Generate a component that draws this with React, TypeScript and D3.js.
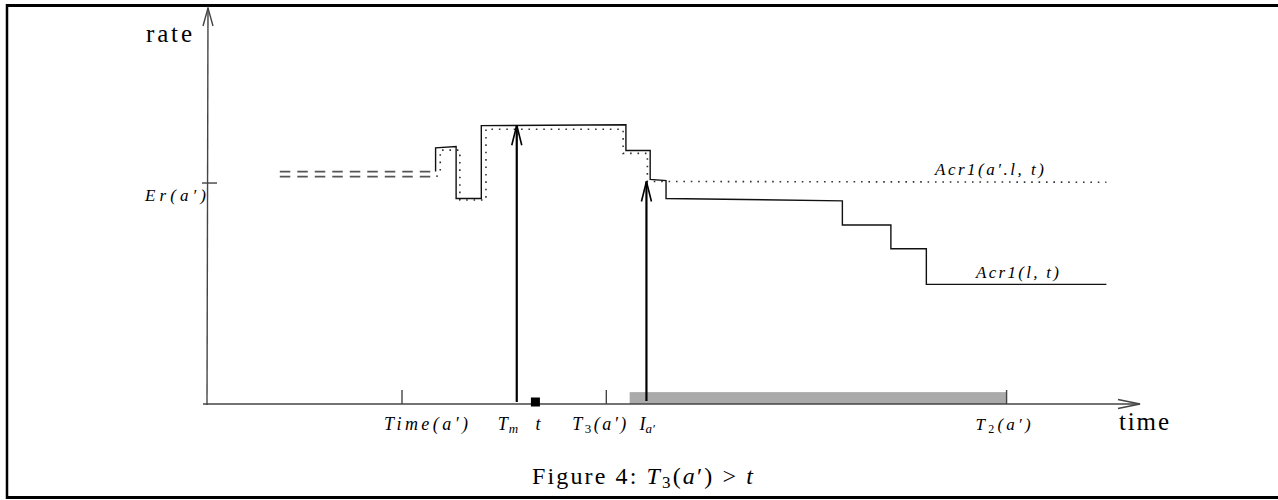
import * as d3 from 'd3';

const W = 1278;
const H = 500;

// time / rate in arbitrary units, 0..100 up to the arrow tips
const timeDomain: [number, number] = [0, 100];
const rateDomain: [number, number] = [0, 100];

const erRate = 55.8;

// earlier rate, drawn as the double dashed line
const prevTimes = [7.8, 24.3];
const prevRates = [58.7, 57.4];

// Acr1(l, t) - solid step line
const acrLTimes = [24.5, 24.5, 26.7, 26.7, 29.4, 29.4, 44.9, 44.9, 47.5, 47.5, 49.2, 49.2, 68.1, 68.1, 73.3, 73.3, 77.1, 77.1, 96.4];
const acrLRates = [58.7, 64.7, 65.0, 51.9, 51.9, 70.3, 70.5, 64.0, 64.0, 56.7, 56.4, 51.9, 51.3, 45.2, 45.2, 39.2, 39.2, 30.2, 30.2];

// Acr1(a'.l, t) - dotted step line
const acrALTimes = [24.6, 25.0, 25.0, 27.1, 27.1, 29.9, 29.9, 44.6, 44.6, 47.2, 47.2, 96.4];
const acrALRates = [57.4, 58.6, 64.1, 64.1, 51.5, 51.5, 69.4, 69.4, 63.3, 63.3, 56.2, 56.0];

// events on the time axis
const timeA = 20.9;
const t3Time = 42.8;
const t2Time = 85.7;
const tmTime = 33.2;
const tmRate = 70.4;
const tTime = 35.2;
const iaTime = 47.1;
const iaRate = 56.2;
const busyStart = 45.3;
const busyEnd = 85.7;
const busyRate = 3.0;

const serif = '"Liberation Serif", "DejaVu Serif", serif';

export default function App() {
  const x = d3.scaleLinear().domain(timeDomain).range([207, 1140]);
  const y = d3.scaleLinear().domain(rateDomain).range([404, 8]);

  const line = d3
    .line<[number, number]>()
    .x((d) => x(d[0]))
    .y((d) => y(d[1]));

  const solid = acrLTimes.map((t, i) => [t, acrLRates[i]] as [number, number]);
  const dotted = acrALTimes.map((t, i) => [t, acrALRates[i]] as [number, number]);

  const x0 = x(0);
  const y0 = y(0);
  const yTop = y(rateDomain[1]);
  const xEnd = x(timeDomain[1]);
  const base = y0 + 26;

  const upArrow = (t: number, r: number) => {
    const px = x(t);
    const py = y(r);
    return `M${px - 5},${py + 20}L${px},${py}L${px + 5},${py + 20}`;
  };

  const ticks = [timeA, t3Time, t2Time];

  return (
    <svg width={W} height={H} style={{ position: 'absolute', left: 0, top: 0 }}>
      <rect width={W} height={H} fill="#fff" />
      {/* frame */}
      <line x1={7} x2={7} y1={4} y2={499} stroke="#000" strokeWidth={2.5} />
      <line x1={6} x2={1278} y1={497.5} y2={497.5} stroke="#000" strokeWidth={3} />
      <line x1={6} x2={1278} y1={5.5} y2={5.5} stroke="#000" strokeWidth={3} />

      {/* busy period */}
      <rect
        x={x(busyStart)}
        y={y(busyRate)}
        width={x(busyEnd) - x(busyStart)}
        height={y0 - y(busyRate)}
        fill="#aaa"
      />

      {/* axes */}
      <g stroke="#444" strokeWidth={1.4} fill="none">
        <line x1={x0 - 4} x2={xEnd} y1={y0} y2={y0} />
        <path d={`M${xEnd - 22},${y0 - 4.5}L${xEnd},${y0}L${xEnd - 22},${y0 + 4.5}`} />
        <line x1={x0} x2={x0 + 1} y1={y0 + 1} y2={yTop} />
        <path d={`M${x0 - 4},${yTop + 18}L${x0 + 1},${yTop}L${x0 + 6},${yTop + 18}`} />
        <line x1={x0 - 5} x2={x0 + 10} y1={y(erRate)} y2={y(erRate)} />
        {ticks.map((t) => (
          <line key={t} x1={x(t)} x2={x(t)} y1={y0 - 14} y2={y0} />
        ))}
      </g>

      {/* earlier rate */}
      {prevRates.map((r) => (
        <line
          key={r}
          x1={x(prevTimes[0])}
          x2={x(prevTimes[1])}
          y1={y(r)}
          y2={y(r)}
          stroke="#555"
          strokeWidth={1.8}
          strokeDasharray="10.5 7"
        />
      ))}

      <path d={line(dotted) ?? ''} fill="none" stroke="#333" strokeWidth={1.6} strokeDasharray="1.6 5.8" />
      <path d={line(solid) ?? ''} fill="none" stroke="#111" strokeWidth={1.4} />

      {/* arrows */}
      <g stroke="#000" fill="none">
        <line x1={x(tmTime)} x2={x(tmTime)} y1={y0 - 2} y2={y(tmRate)} strokeWidth={2.2} />
        <path d={upArrow(tmTime, tmRate)} strokeWidth={1.6} />
        <line x1={x(iaTime)} x2={x(iaTime)} y1={y0 - 3} y2={y(iaRate)} strokeWidth={2.2} />
        <path d={upArrow(iaTime, iaRate)} strokeWidth={1.6} />
      </g>
      <rect x={x(tTime) - 4.5} y={y0 - 6.5} width={9} height={9} fill="#000" />

      {/* axis titles */}
      <g fontFamily={serif} fill="#000" fontSize={25}>
        <text x={146} y={41.5} textLength={46} lengthAdjust="spacing">rate</text>
        <text x={1119} y={430} textLength={50} lengthAdjust="spacing">time</text>
      </g>

      <g fontFamily={serif} fontStyle="italic" fontSize={18} fill="#000">
        <text x={145} y={201} fontSize={17} textLength={61} lengthAdjust="spacing">Er(a′)</text>
        <text x={x(timeA) - 18} y={base} textLength={84} lengthAdjust="spacing">Time(a′)</text>
        <text x={x(tmTime) - 19} y={base}>
          T<tspan fontSize={13} dy={3} dx={1}>m</tspan>
        </text>
        <text x={x(tTime)} y={base}>t</text>
        <text x={x(t3Time) - 34} y={base} textLength={54} lengthAdjust="spacing">
          T<tspan fontSize={13} fontStyle="normal" dy={3}>3</tspan>
          <tspan dy={-3}>(a′)</tspan>
        </text>
        <text x={x(iaTime) - 7} y={base}>
          I<tspan fontSize={13} dy={3}>a′</tspan>
        </text>
        <text x={x(t2Time) - 31} y={base} fontSize={17} textLength={55} lengthAdjust="spacing">
          T<tspan fontSize={12} fontStyle="normal" dy={3}>2</tspan>
          <tspan dy={-3}>(a′)</tspan>
        </text>
        <text x={935} y={175} fontSize={17} textLength={109} lengthAdjust="spacing">Acr1(a′.l, t)</text>
        <text x={976} y={278} fontSize={17} textLength={83} lengthAdjust="spacing">Acr1(l, t)</text>
      </g>

      {/* caption */}
      <text x={532} y={484} fontFamily={serif} fontSize={24} fill="#000" textLength={221} lengthAdjust="spacing">
        Figure 4: <tspan fontStyle="italic">T</tspan>
        <tspan fontSize={17} dy={4}>3</tspan>
        <tspan dy={-4}>(</tspan>
        <tspan fontStyle="italic">a</tspan>′) {'>'} <tspan fontStyle="italic">t</tspan>
      </text>
    </svg>
  );
}
